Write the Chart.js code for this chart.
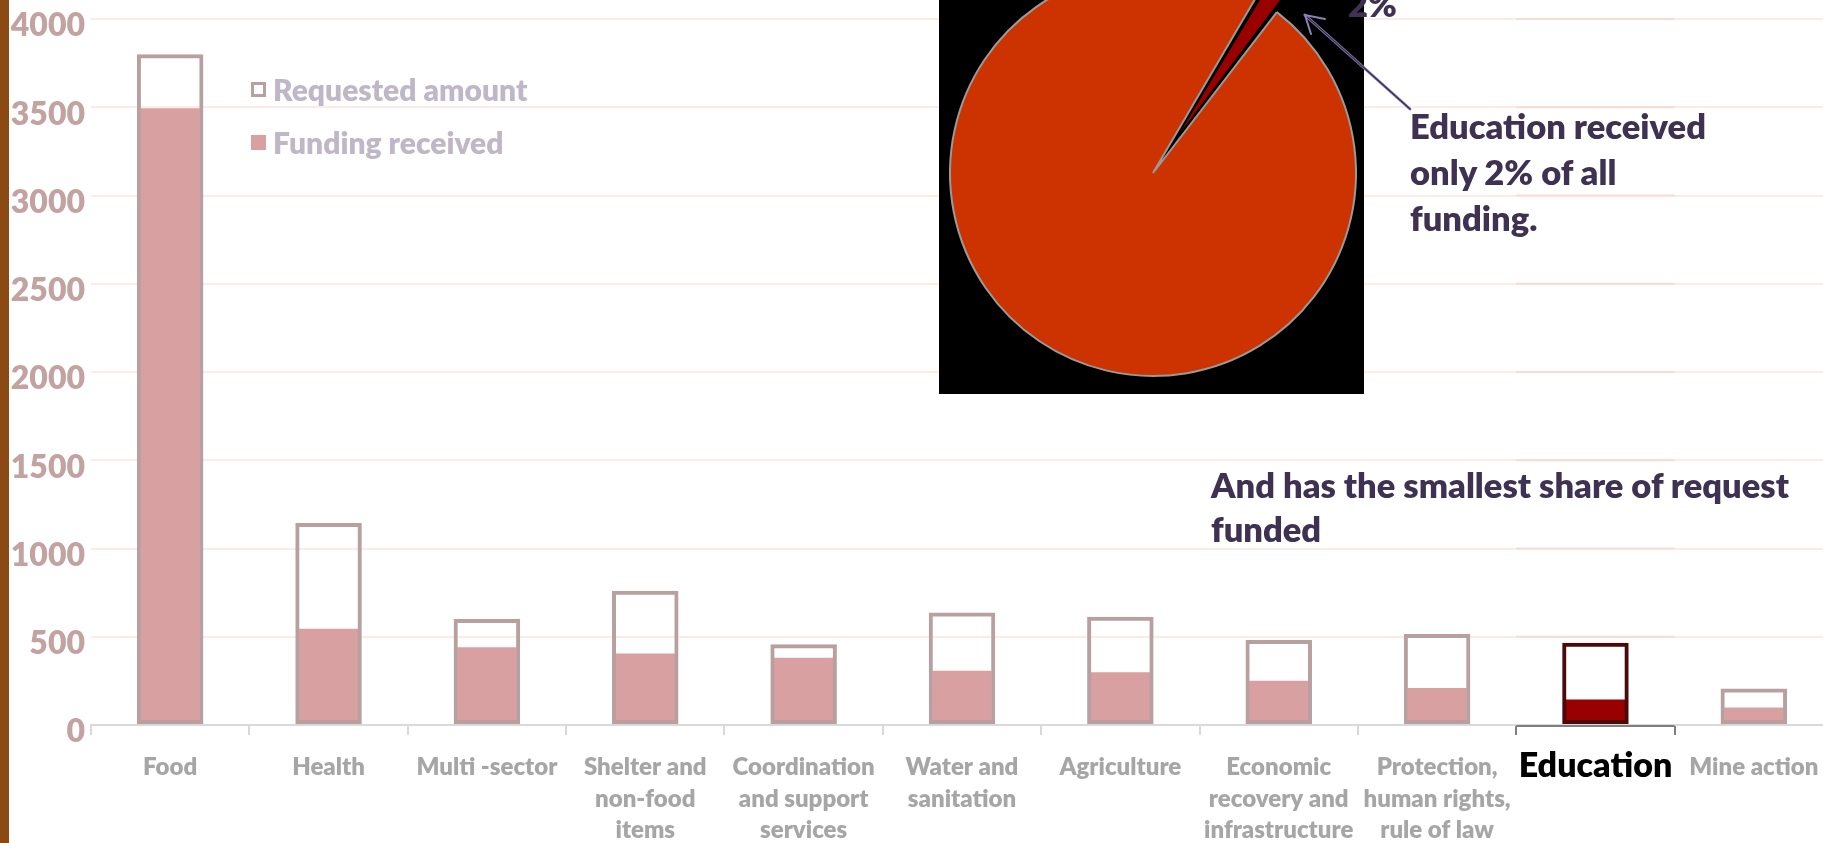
<!DOCTYPE html>
<html>
<head>
<meta charset="utf-8">
<script src="https://cdn.jsdelivr.net/npm/chart.js@4.4.1/dist/chart.umd.min.js"></script>
<style>
html,body{margin:0;padding:0;width:1823px;height:843px;overflow:hidden;background:#fff;font-family:Lato,"Open Sans",sans-serif;}
#stripe{position:absolute;left:0;top:0;width:9px;height:843px;background:#8B4A14;z-index:5;}
#barWrap{position:absolute;left:0;top:0;width:1840px;height:843px;}
#pieBox{position:absolute;left:939px;top:0;width:425px;height:394px;background:#000;overflow:hidden;z-index:2;}
#pieWrap{position:absolute;left:-36px;top:-77px;width:500px;height:500px;}
.note{position:absolute;color:#3F3151;font-weight:800;font-size:34.5px;white-space:nowrap;z-index:3;}
#legend{position:absolute;left:251px;top:0;z-index:3;}
.lg{position:absolute;left:0;white-space:nowrap;font-weight:800;font-size:30px;color:#BFB7C7;line-height:36px;}
.lg span.box{position:absolute;left:0;top:11px;width:15px;height:15px;box-sizing:border-box;}
.lg span.txt{position:absolute;left:22px;top:0;}
#arrow{position:absolute;left:0;top:0;z-index:4;}
</style>
</head>
<body>
<div id="stripe"></div>
<div id="barWrap"><canvas id="bars"></canvas></div>
<div id="pieBox"><div id="pieWrap"><canvas id="pie"></canvas></div></div>
<div id="legend"></div>
<div class="note" style="left:1348px;top:-16px;line-height:40px;">2%</div>
<div class="note" style="left:1410px;top:103px;line-height:46px;">Education received<br>only 2% of all<br>funding.</div>
<div class="note" style="left:1211px;top:463px;line-height:44px;">And has the smallest share of request<br>funded</div>
<svg id="arrow" width="1823" height="843" xmlns="http://www.w3.org/2000/svg">
  <g fill="none" stroke-linecap="round">
    <line x1="1410" y1="109" x2="1305" y2="15" stroke="#8C84B8" stroke-width="3"/>
    <line x1="1410" y1="109" x2="1305" y2="15" stroke="#3F3151" stroke-width="1.5"/>
    <polyline points="1325,19 1305,15 1311,34" stroke="#8C84B8" stroke-width="2"/>
  </g>
</svg>
<script>
// ---- data ----
const categories = [
  ['Food'], ['Health'], ['Multi -sector'], ['Shelter and', 'non-food', 'items'],
  ['Coordination', 'and support', 'services'], ['Water and', 'sanitation'], ['Agriculture'],
  ['Economic', 'recovery and', 'infrastructure'], ['Protection,', 'human rights,', 'rule of law'],
  ['Education'], ['Mine action']
];
const requestedAmount = [3800, 1145, 600, 760, 457, 638, 613, 481, 515, 466, 207];
const fundingReceived = [3495, 545, 440, 405, 381, 308, 299, 251, 209, 145, 99];
const yTickValues = [0, 500, 1000, 1500, 2000, 2500, 3000, 3500, 4000];
const pieLabels = ['Education', 'All other sectors'];
const pieShares = [2, 98];
const highlightIndex = 9;

Chart.defaults.font.family = 'Lato, "Open Sans", sans-serif';

const reqBorder = ctx => ctx.dataIndex === highlightIndex ? '#4B0A0A' : '#B8A0A0';
const fundFill = ctx => ctx.dataIndex === highlightIndex ? '#990000' : '#D9A0A2';

const eduHighlight = {
  id: 'eduHighlight',
  beforeDatasetsDraw(chart) {
    const {ctx, scales: {x, y}, chartArea} = chart;
    const half = (x.getPixelForTick(1) - x.getPixelForTick(0)) / 2;
    const cx = x.getPixelForTick(highlightIndex);
    ctx.save();
    ctx.lineWidth = 2;
    ctx.strokeStyle = '#FADBD2';
    y.ticks.forEach(t => {
      if (t.value === 0) return;
      const py = y.getPixelForValue(t.value);
      ctx.beginPath(); ctx.moveTo(cx - half, py); ctx.lineTo(cx + half, py); ctx.stroke();
    });
    ctx.strokeStyle = '#7F7F7F';
    ctx.beginPath(); ctx.moveTo(cx - half, chartArea.bottom + 1); ctx.lineTo(cx + half, chartArea.bottom + 1); ctx.stroke();
    ctx.restore();
  }
};

const barChart = new Chart(document.getElementById('bars'), {
  type: 'bar',
  data: {
    labels: categories,
    datasets: [
      {
        label: 'Requested amount', data: requestedAmount,
        backgroundColor: 'rgba(255,255,255,0)', borderColor: reqBorder, borderWidth: 4,
        borderSkipped: false, grouped: false, barPercentage: 0.42, categoryPercentage: 1, order: 0
      },
      {
        label: 'Funding received', data: fundingReceived,
        backgroundColor: fundFill, borderWidth: 0,
        grouped: false, barPercentage: 0.375, categoryPercentage: 1, order: 1
      }
    ]
  },
  options: {
    responsive: true, maintainAspectRatio: false, animation: false,
    layout: {padding: {left: 0, right: 7, top: 19, bottom: 0}},
    plugins: {legend: {display: false}, tooltip: {enabled: false}},
    scales: {
      x: {
        offset: true,
        grid: {
          offset: true, drawOnChartArea: false, drawTicks: true, tickLength: 10, lineWidth: 2,
          color: ctx => (ctx.index === highlightIndex || ctx.index === highlightIndex + 1) ? '#7F7F7F' : '#D9D9D9'
        },
        border: {display: true, color: '#D9D9D9', width: 2},
        ticks: {
          autoSkip: false, maxRotation: 0, minRotation: 0, padding: 17,
          color: ctx => ctx.index === highlightIndex ? '#000000' : '#A6A6A6',
          font: ctx => ctx.index === highlightIndex
            ? {size: 34, weight: 800, lineHeight: 0.8}
            : {size: 24, weight: 800, lineHeight: 1.3}
        },
        afterFit: s => { s.height = 118; s.paddingLeft = 0; s.paddingRight = 0; }
      },
      y: {
        min: 0, max: 4000,
        afterBuildTicks: s => { s.ticks = yTickValues.map(v => ({value: v})); },
        ticks: {color: '#C3A2A2', font: {size: 32, weight: 800}, padding: 6, labelOffset: 7,
                callback: v => String(v)},
        grid: {color: '#FCECE8', lineWidth: 2, drawTicks: false},
        border: {display: false},
        afterFit: s => { s.width = 91; s.paddingTop = 0; s.paddingBottom = 0; }
      }
    }
  },
  plugins: [eduHighlight]
});

// legend from datasets
const legend = document.getElementById('legend');
const legendTops = [71, 124];
barChart.data.datasets.forEach((ds, i) => {
  const row = document.createElement('div');
  row.className = 'lg';
  row.style.top = legendTops[i] + 'px';
  const box = document.createElement('span');
  box.className = 'box';
  if (i === 0) { box.style.border = '3px solid #B8A0A0'; box.style.background = '#fff'; }
  else { box.style.background = '#D9A0A2'; }
  const txt = document.createElement('span');
  txt.className = 'txt';
  txt.textContent = ds.label;
  row.appendChild(box); row.appendChild(txt);
  legend.appendChild(row);
});

new Chart(document.getElementById('pie'), {
  type: 'pie',
  data: {
    labels: pieLabels,
    datasets: [{
      data: pieShares,
      backgroundColor: ['#990000', '#CC3300'],
      borderColor: ['#000000', '#9A9A9A'],
      borderWidth: [3, 2],
      offset: [75, 0],
      rotation: 30.4
    }]
  },
  options: {
    responsive: true, maintainAspectRatio: false, animation: false,
    rotation: 30.4, radius: 203,
    layout: {padding: 0},
    plugins: {legend: {display: false}, tooltip: {enabled: false}}
  }
});
</script>
</body>
</html>
